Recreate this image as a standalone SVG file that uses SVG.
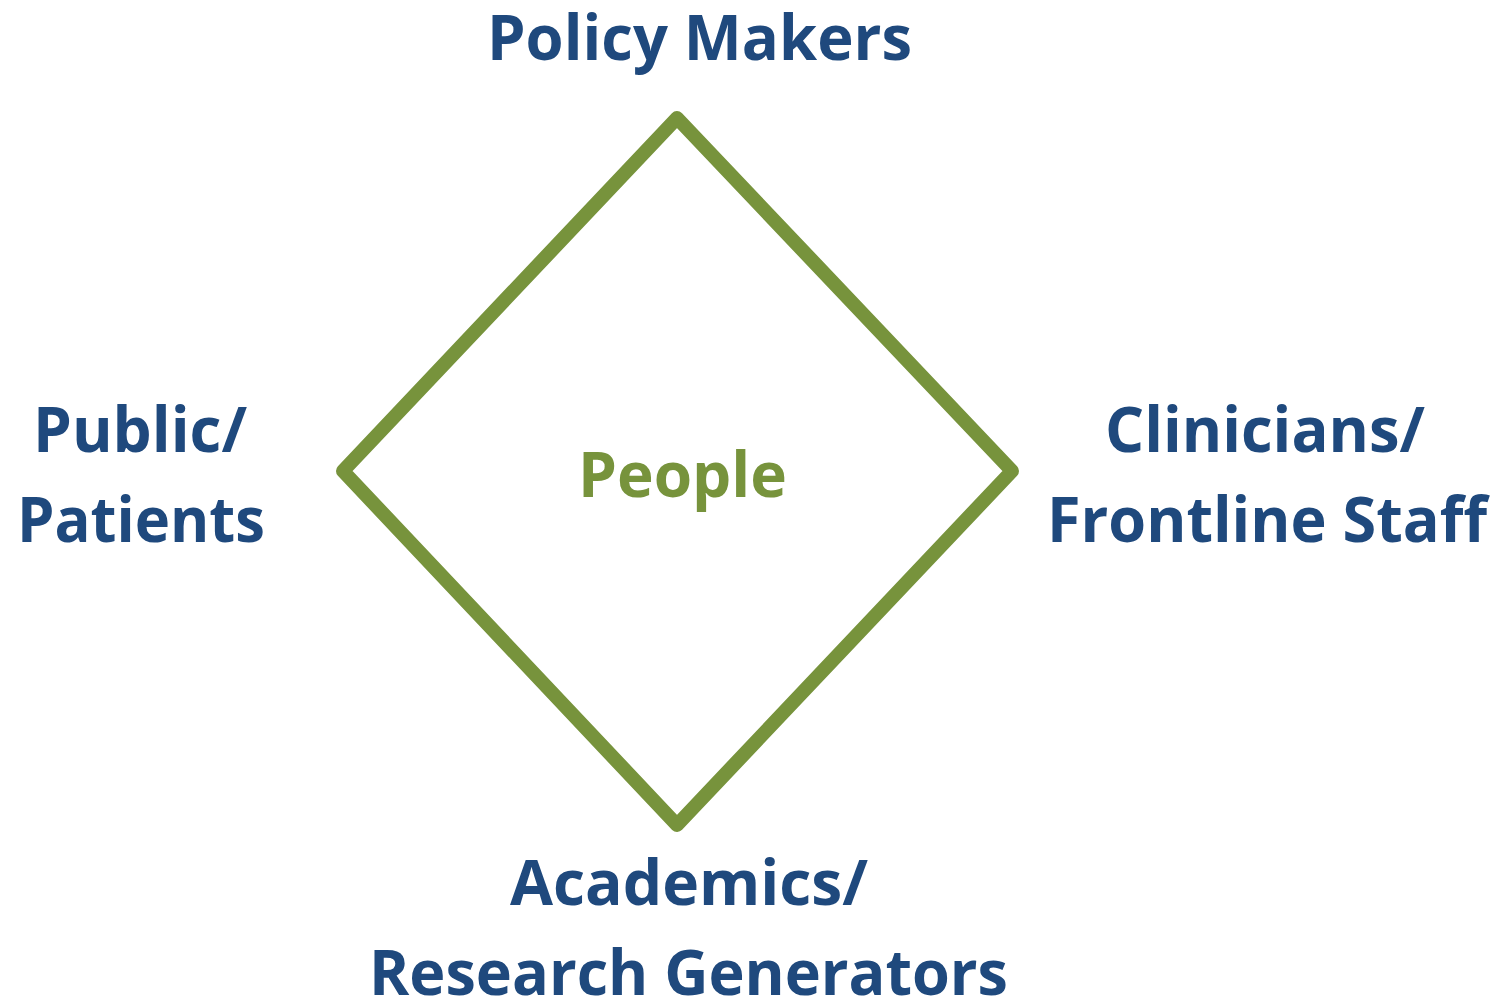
<svg xmlns="http://www.w3.org/2000/svg" width="1504" height="1000" viewBox="0 0 1504 1000">
<style>
.lbl{font-family:"Open Sans","Liberation Sans",sans-serif;font-weight:bold;font-size:62px;fill:#1F497D;text-anchor:middle}
.ctr{font-family:"Open Sans","Liberation Sans",sans-serif;font-weight:bold;font-size:62px;fill:#77933C;text-anchor:middle}
</style>
<rect width="1504" height="1000" fill="#FFFFFF"/>
<g id="connectors">
<polygon points="677,118 1012,471 677,825 343,471" fill="none" stroke="#77933C" stroke-width="14" stroke-linejoin="round"/>
</g>
<g id="people"><text class="ctr" x="682.5" y="497" textLength="209" lengthAdjust="spacingAndGlyphs">People</text></g>
<g id="policy-makers"><text class="lbl" x="699.5" y="60" textLength="425" lengthAdjust="spacingAndGlyphs">Policy Makers</text></g>
<g id="public-patients">
<text class="lbl" x="140" y="452" textLength="214" lengthAdjust="spacingAndGlyphs">Public/</text>
<text class="lbl" x="141" y="542" textLength="248" lengthAdjust="spacingAndGlyphs">Patients</text>
</g>
<g id="clinicians">
<text class="lbl" x="1265" y="452" textLength="320" lengthAdjust="spacingAndGlyphs">Clinicians/</text>
<text class="lbl" x="1267" y="542" textLength="440" lengthAdjust="spacingAndGlyphs">Frontline Staff</text>
</g>
<g id="academics">
<text class="lbl" x="689" y="905" textLength="358" lengthAdjust="spacingAndGlyphs">Academics/</text>
<text class="lbl" x="688.5" y="995" textLength="639" lengthAdjust="spacingAndGlyphs">Research Generators</text>
</g>
</svg>
